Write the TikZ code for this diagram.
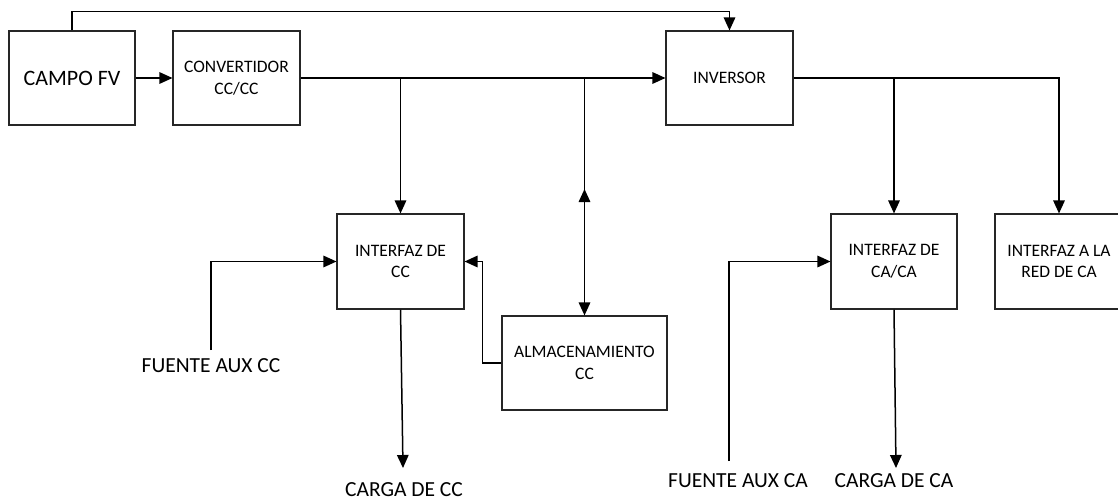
\documentclass[tikz,border=0pt]{standalone}
\usepackage{fontspec}
\setmainfont{Carlito}
\usetikzlibrary{arrows.meta,positioning}

\begin{document}
\begin{tikzpicture}[
  x=1pt,y=-1pt,
  >={Triangle[length=13pt,width=11.5pt]},
  block/.style={draw=black!85,line width=1.1pt,inner sep=0pt,align=center,
    minimum width=127pt,minimum height=94pt,font=\fontsize{17.5}{21.5}\selectfont},
  tag/.style={inner sep=0pt,anchor=base,font=\fontsize{21.5}{24}\selectfont},
  flow/.style={->,line width=1.5pt}
]
  \useasboundingbox (0,0) rectangle (1118,500);
  \clip (0,0) rectangle (1118,500);

  % blocks
  \node[block,minimum width=126pt,font=\fontsize{22}{26}\selectfont] (campo) at (72,78) {CAMPO FV};
  \node[block] (conv) at (236.5,78) {CONVERTIDOR\\CC/CC};
  \node[block] (inv) at (729.5,78) {INVERSOR};
  \node[block,minimum height=95pt] (icc) at (400.5,261.5) {INTERFAZ DE\\CC};
  \node[block,minimum width=165pt] (alm) at (584.5,363) {ALMACENAMIENTO\\CC};
  \node[block,minimum width=126pt,minimum height=95pt] (ica) at (894,261.5) {INTERFAZ DE\\CA/CA};
  \node[block,minimum width=128pt,minimum height=95pt] (ired) at (1059,261.5) {INTERFAZ A LA\\RED DE CA};

  % free labels
  \node[tag] (fuentecc) at (211,372) {FUENTE AUX CC};
  \node[tag] (cargacc) at (404,496) {CARGA DE CC};
  \node[tag] (fuenteca) at (738,487) {FUENTE AUX CA};
  \node[tag] (cargaca) at (894,487) {CARGA DE CA};

  \coordinate (fcc) at (211,350);
  \coordinate (ccload) at (403,468);
  \coordinate (fca) at (729,461);
  \coordinate (caload) at (896,468);
  \coordinate (almup) at (584.5,189);

  % connections
  \draw[flow] (campo) -- (conv);
  \draw[flow] (campo.north) -- ++(0,-19) -| (inv.north);
  \draw[flow] (conv) -- (inv);
  \draw[flow] (conv.east -| icc.north) -- (icc.north);
  \draw[flow] (conv.east -| alm.north) -- (alm.north);
  \draw[flow] (alm.north) -- (almup);
  \draw[flow] (inv.east) -| (ired.north);
  \draw[flow] (inv.east -| ica.north) -- (ica.north);

  \draw[flow] (fcc) |- (icc.west);
  \draw[flow] (alm.west) -- ++(-19,0) |- (icc.east);
  \draw[flow] (icc.south) -- (ccload);
  \draw[flow] (fca) |- (ica.west);
  \draw[flow] (ica.south) -- (caload);
\end{tikzpicture}
\end{document}
